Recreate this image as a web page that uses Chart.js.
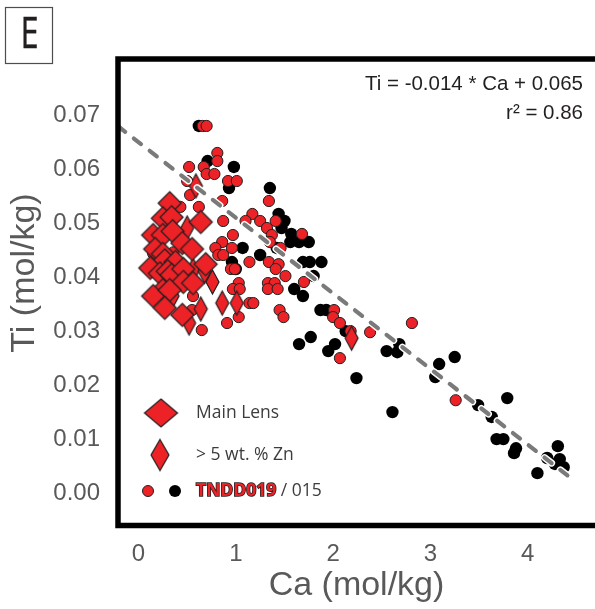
<!DOCTYPE html>
<html>
<head>
<meta charset="utf-8">
<script src="https://cdn.jsdelivr.net/npm/chart.js@4/dist/chart.umd.min.js"></script>
<style>
html,body{margin:0;padding:0;background:#fff;overflow:hidden}
canvas{display:block}
</style>
</head>
<body>
<canvas id="c" width="595" height="609"></canvas>
<script>
// Ca vs Ti (mol/kg)
const mainLensCa = [0.32,0.25,0.34,0.64,0.15,0.25,0.35,0.45,0.55,0.17,0.25,0.27,0.38,0.12,0.22,0.30,0.34,0.46,0.69,0.46,0.56,0.25,0.15,0.32,0.27,0.45];
const mainLensTi = [0.0537,0.0509,0.0511,0.0502,0.0478,0.0478,0.0485,0.0463,0.0452,0.0452,0.0443,0.0431,0.0428,0.0417,0.0407,0.0411,0.0404,0.0415,0.0424,0.0391,0.0389,0.0376,0.0365,0.0376,0.0343,0.0330];

const highZnCa = [0.59,0.50,0.56,0.68,0.76,0.35,0.64,0.52,0.86,1.01,2.19];
const highZnTi = [0.0569,0.0491,0.0413,0.0411,0.0391,0.0365,0.0341,0.0315,0.0352,0.0352,0.0287];

const tndd019Ca = [0.66,0.70,0.81,0.81,0.52,0.67,0.70,0.78,0.92,1.01,0.50,0.53,0.86,1.34,0.43,0.62,1.17,1.25,1.41,1.10,0.87,1.32,0.97,1.37,1.68,0.86,1.35,1.46,0.79,0.96,0.82,0.87,1.14,1.34,1.44,0.95,0.99,1.41,1.51,1.70,1.03,0.97,1.04,1.33,1.40,1.33,1.43,1.14,1.18,1.45,1.49,0.55,1.03,0.91,0.65,2.01,2.00,2.07,2.18,2.81,2.38,2.07,3.26,0.34,0.36,0.15,0.17,0.56];
const tndd019Ti = [0.0680,0.0680,0.0630,0.0615,0.0604,0.0604,0.0591,0.0591,0.0578,0.0578,0.0578,0.0552,0.0541,0.0541,0.0530,0.0530,0.0517,0.0504,0.0504,0.0504,0.0504,0.0491,0.0478,0.0478,0.0480,0.0465,0.0465,0.0454,0.0454,0.0454,0.0441,0.0441,0.0428,0.0428,0.0424,0.0415,0.0415,0.0415,0.0402,0.0391,0.0389,0.0378,0.0378,0.0389,0.0389,0.0378,0.0378,0.0352,0.0352,0.0339,0.0326,0.0339,0.0326,0.0315,0.0302,0.0339,0.0326,0.0315,0.0300,0.0315,0.0298,0.0250,0.0172,0.0491,0.0446,0.0444,0.0428,0.0365];

const tndd015Ca = [0.62,0.71,0.98,0.93,1.35,1.44,1.50,1.47,1.57,1.56,1.65,1.75,1.42,1.07,1.25,1.69,1.76,1.88,0.96,1.00,1.80,1.60,1.69,1.87,1.93,2.13,1.77,1.65,2.02,1.95,2.68,2.55,2.66,2.24,2.61,3.09,3.25,3.05,3.49,3.63,3.79,3.68,3.75,3.88,3.86,4.20,4.31,4.33,4.37,4.28,4.10];
const tndd015Ti = [0.0680,0.0615,0.0604,0.0565,0.0565,0.0517,0.0504,0.0491,0.0480,0.0465,0.0465,0.0465,0.0454,0.0454,0.0441,0.0428,0.0428,0.0428,0.0428,0.0415,0.0402,0.0378,0.0365,0.0339,0.0339,0.0300,0.0289,0.0276,0.0276,0.0263,0.0276,0.0263,0.0261,0.0213,0.0150,0.0239,0.0252,0.0215,0.0163,0.0141,0.0176,0.0100,0.0100,0.0083,0.0074,0.0065,0.0087,0.0063,0.0048,0.0054,0.0037];

const xTickValues = [0, 1, 2, 3, 4];
const xTickLabels = ['0', '1', '2', '3', '4'];
const yTickValues = [0, 0.01, 0.02, 0.03, 0.04, 0.05, 0.06, 0.07];
const yTickLabels = ['0.00', '0.01', '0.02', '0.03', '0.04', '0.05', '0.06', '0.07'];
const xRange = [-0.211, 4.692];
const yRange = [-0.0060, 0.0804];

// linear fit Ti = slope * Ca + intercept
const fitSlope = -0.014;
const fitIntercept = 0.065;
const fitR2 = 0.86;
const fitCaRange = [-0.21, 4.47];

const panelLetter = 'E';
const legendLabels = ['Main Lens', '> 5 wt. % Zn', 'TNDD019', ' / 015'];

const RED = '#EC2227';
const EDGE = '#231F20';
const GREY_TXT = '#595959';
const SANS = '"Liberation Sans", Arial, sans-serif';

const pts = (xs, ys) => xs.map((x, i) => ({ x, y: ys[i] }));
const fitPts = fitCaRange.map(x => ({ x, y: fitSlope * x + fitIntercept }));

function diamond(w, h) {
  const pad = 2;
  const c = document.createElement('canvas');
  c.width = Math.ceil(w + pad * 2);
  c.height = Math.ceil(h + pad * 2);
  const g = c.getContext('2d');
  const cx = c.width / 2, cy = c.height / 2;
  g.beginPath();
  g.moveTo(cx, cy - h / 2);
  g.lineTo(cx + w / 2, cy);
  g.lineTo(cx, cy + h / 2);
  g.lineTo(cx - w / 2, cy);
  g.closePath();
  g.fillStyle = RED;
  g.fill();
  g.lineWidth = 1.2;
  g.strokeStyle = EDGE;
  g.stroke();
  return c;
}
const bigDiamond = diamond(23, 23);
const narrowDiamond = diamond(13, 24);
const legendBig = diamond(33, 28);
const legendNarrow = diamond(18, 31);

const decor = {
  id: 'decor',
  afterDraw(chart) {
    const ctx = chart.ctx;
    const a = chart.chartArea;
    ctx.save();

    // panel letter box
    ctx.strokeStyle = '#4d4d4d';
    ctx.lineWidth = 1.2;
    ctx.strokeRect(5.5, 7.5, 47, 56);
    ctx.fillStyle = '#231F20';
    ctx.strokeStyle = '#231F20';
    ctx.textAlign = 'center';
    ctx.textBaseline = 'middle';
    ctx.save();
    ctx.translate(29.5, 36);
    ctx.scale(0.76, 1);
    ctx.font = '43px "Open Sans", sans-serif';
    ctx.lineWidth = 0.4;
    ctx.fillText(panelLetter, 0, 0);
    ctx.strokeText(panelLetter, 0, 0);
    ctx.restore();

    // open frame: left, top and bottom edges
    ctx.strokeStyle = '#000';
    ctx.lineWidth = 5.5;
    ctx.lineCap = 'butt';
    ctx.lineJoin = 'miter';
    ctx.beginPath();
    ctx.moveTo(chart.width + 5, a.top);
    ctx.lineTo(a.left, a.top);
    ctx.lineTo(a.left, a.bottom);
    ctx.lineTo(chart.width + 5, a.bottom);
    ctx.stroke();

    // y axis title
    ctx.save();
    ctx.translate(25, 273);
    ctx.rotate(-Math.PI / 2);
    ctx.fillStyle = GREY_TXT;
    ctx.font = '34px ' + SANS;
    ctx.textAlign = 'center';
    ctx.textBaseline = 'middle';
    ctx.fillText('Ti (mol/kg)', 0, 0);
    ctx.restore();

    // fit equation
    ctx.fillStyle = '#231F20';
    ctx.font = '20.5px ' + SANS;
    ctx.textAlign = 'right';
    ctx.textBaseline = 'middle';
    ctx.fillText('Ti = ' + fitSlope + ' * Ca + ' + fitIntercept, 583, 84);
    ctx.fillText('r\u00B2 = ' + fitR2.toFixed(2), 583, 113);

    // legend
    ctx.drawImage(legendBig, 161 - legendBig.width / 2, 413 - legendBig.height / 2);
    ctx.drawImage(legendNarrow, 160 - legendNarrow.width / 2, 455 - legendNarrow.height / 2);
    ctx.beginPath();
    ctx.arc(148, 491, 5.5, 0, Math.PI * 2);
    ctx.fillStyle = RED; ctx.fill();
    ctx.lineWidth = 1; ctx.strokeStyle = EDGE; ctx.stroke();
    ctx.beginPath();
    ctx.arc(175, 491, 6, 0, Math.PI * 2);
    ctx.fillStyle = '#000'; ctx.fill();

    ctx.textAlign = 'left';
    ctx.textBaseline = 'middle';
    ctx.fillStyle = '#3c3c3c';
    ctx.font = '17.5px "Open Sans", sans-serif';
    ctx.fillText(legendLabels[0], 196, 413);
    ctx.fillText(legendLabels[1], 196, 455);
    ctx.font = 'bold 17.5px "Open Sans", sans-serif';
    ctx.lineWidth = 1.6;
    ctx.strokeStyle = '#231F20';
    ctx.strokeText(legendLabels[2], 196, 491);
    ctx.fillStyle = RED;
    ctx.fillText(legendLabels[2], 196, 491);
    const w = ctx.measureText(legendLabels[2]).width;
    ctx.font = '17.5px "Open Sans", sans-serif';
    ctx.fillStyle = '#3c3c3c';
    ctx.fillText(legendLabels[3], 196 + w, 491);

    ctx.restore();
  }
};

new Chart(document.getElementById('c'), {
  type: 'scatter',
  data: {
    datasets: [
      { type: 'line', data: fitPts, borderColor: '#7a7a7a', borderWidth: 4.2, borderDash: [9, 11], borderCapStyle: 'round', pointRadius: 0, order: 0, clip: false },
      { type: 'line', data: fitPts, borderColor: '#ffffff', borderWidth: 7, borderDash: [9, 11], borderCapStyle: 'round', pointRadius: 0, order: 1, clip: false },
      { label: 'Main Lens', data: pts(mainLensCa, mainLensTi), pointStyle: bigDiamond, pointRadius: 12, order: 2 },
      { label: '> 5 wt. % Zn', data: pts(highZnCa, highZnTi), pointStyle: narrowDiamond, pointRadius: 12, order: 3 },
      { label: 'TNDD019', data: pts(tndd019Ca, tndd019Ti), pointStyle: 'circle', pointRadius: 5.6, backgroundColor: RED, borderColor: EDGE, borderWidth: 1, order: 4 },
      { label: '015', data: pts(tndd015Ca, tndd015Ti), pointStyle: 'circle', pointRadius: 6.2, backgroundColor: '#000', borderColor: '#000', borderWidth: 0, order: 5 }
    ]
  },
  options: {
    responsive: false,
    animation: false,
    events: [],
    layout: { autoPadding: false, padding: { top: 59, right: 0, bottom: 0, left: 0 } },
    plugins: { legend: { display: false }, tooltip: { enabled: false } },
    scales: {
      x: {
        type: 'linear', min: xRange[0], max: xRange[1],
        grid: { display: false }, border: { display: false },
        afterBuildTicks: s => { s.ticks = xTickValues.map(v => ({ value: v })); },
        afterFit: s => { s.height = 83.5; s.paddingLeft = 0; s.paddingRight = 0; },
        ticks: {
          callback: (v, i) => xTickLabels[i],
          font: { family: SANS, size: 24 },
          color: GREY_TXT, padding: 6, maxRotation: 0, autoSkip: false
        },
        title: {
          display: true, text: 'Ca (mol/kg)', color: GREY_TXT,
          font: { family: SANS, size: 34 },
          padding: { top: 0, bottom: 3 }
        }
      },
      y: {
        type: 'linear', min: yRange[0], max: yRange[1],
        grid: { display: false }, border: { display: false },
        afterBuildTicks: s => { s.ticks = yTickValues.map(v => ({ value: v })); },
        afterFit: s => { s.width = 118; s.paddingTop = 0; s.paddingBottom = 0; },
        ticks: {
          callback: (v, i) => yTickLabels[i],
          font: { family: SANS, size: 24 },
          color: GREY_TXT, padding: 10, autoSkip: false
        }
      }
    }
  },
  plugins: [decor]
});
</script>
</body>
</html>
